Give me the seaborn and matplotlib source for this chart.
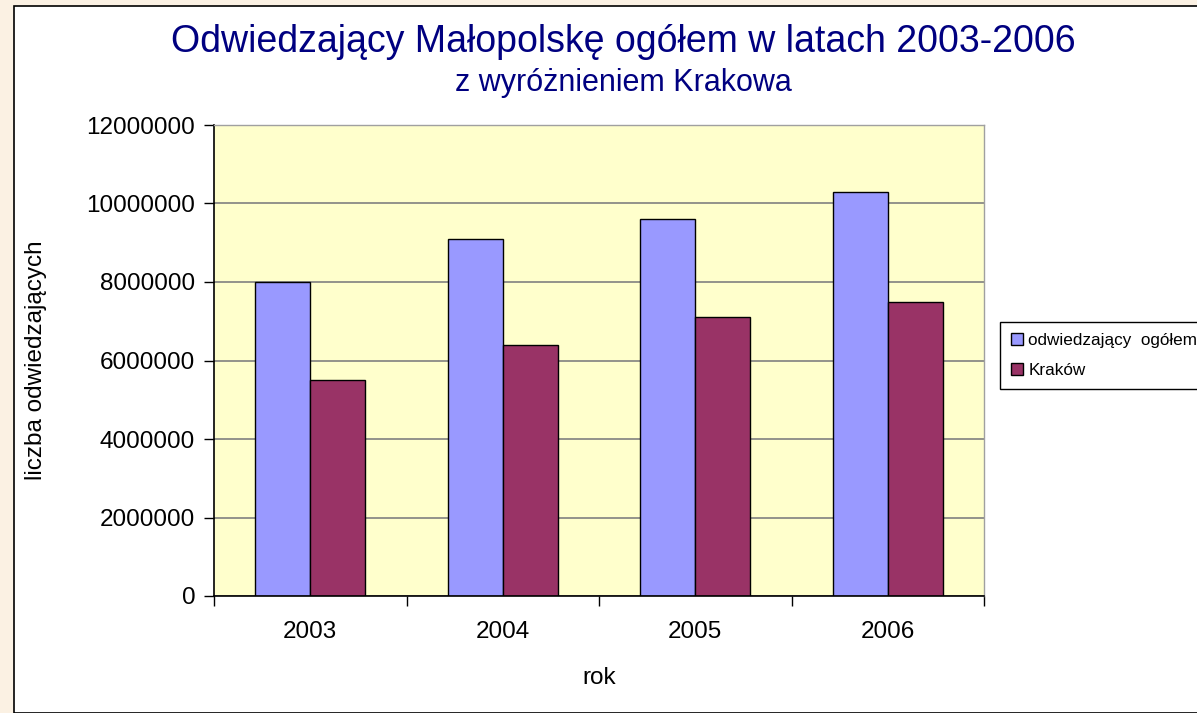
import matplotlib
matplotlib.use("Agg")
import matplotlib.pyplot as plt
from matplotlib.patches import Rectangle, Patch
from matplotlib.ticker import FuncFormatter, FixedLocator
import seaborn as sns
import pandas as pd

years = ["2003", "2004", "2005", "2006"]
series_names = ["odwiedzający  ogółem", "Kraków"]
total_visitors = [8000000, 9100000, 9600000, 10300000]
krakow_visitors = [5500000, 6400000, 7100000, 7500000]
yticks = [0, 2000000, 4000000, 6000000, 8000000, 10000000, 12000000]

df = pd.DataFrame({
    "rok": years * 2,
    "seria": [series_names[0]] * 4 + [series_names[1]] * 4,
    "wartosc": total_visitors + krakow_visitors,
})

sns.set_theme(style="white")
plt.rcParams["font.family"] = ["Liberation Sans", "DejaVu Sans"]

W, H = 1197, 713
fig = plt.figure(figsize=(W / 100, H / 100), dpi=100, facecolor="#FBF1E3")
fig.patches.append(Rectangle((14 / W, 0), 1.2, (H - 6) / H, transform=fig.transFigure,
                             facecolor="white", edgecolor="black", linewidth=1.2, zorder=-10))

ax = fig.add_axes([214 / W, (H - 596) / H, (984 - 214) / W, (596 - 125) / H])
ax.set_facecolor("#FFFFCC")

colors = ["#9999FF", "#993366"]
sns.barplot(data=df, x="rok", y="wartosc", hue="seria", palette=colors,
            width=0.57, edgecolor="black", linewidth=1.0, ax=ax, legend=False,
            saturation=1)

ax.set_ylim(0, 12000000)
ax.set_xlim(-0.5, 3.5)
ax.yaxis.set_major_locator(FixedLocator(yticks))
ax.yaxis.set_major_formatter(FuncFormatter(lambda v, p: f"{int(v)}"))
ax.grid(axis="y", color="#808080", linewidth=1.2, zorder=0)
ax.set_axisbelow(True)

for s in ["top", "right"]:
    ax.spines[s].set_color("#A0A0A0")
    ax.spines[s].set_linewidth(1.0)
for s in ["left", "bottom"]:
    ax.spines[s].set_color("black")
    ax.spines[s].set_linewidth(1.2)

ax.tick_params(axis="y", which="major", direction="out", length=7, width=1, color="black",
               labelsize=17.5, pad=6.5, left=True, labelcolor="black")
ax.tick_params(axis="x", which="major", length=0, labelsize=17.5, pad=18, labelcolor="black")
ax.set_xticks([-0.5, 0.5, 1.5, 2.5, 3.5], minor=True)
ax.tick_params(axis="x", which="minor", direction="out", length=7, width=1, color="black", bottom=True)

ax.set_xlabel("rok", fontsize=17.5, labelpad=17, color="black")
ax.set_ylabel("liczba odwiedzających", fontsize=17.5, labelpad=28, color="black")

fig.text(623 / W, 1 - 42 / H, "Odwiedzający Małopolskę ogółem w latach 2003-2006",
         ha="center", va="center", fontsize=27, color="#000080")
fig.text(623 / W, 1 - 83 / H, "z wyróżnieniem Krakowa",
         ha="center", va="center", fontsize=22, color="#000080")

handles = [Patch(facecolor=c, edgecolor="black", linewidth=1.0) for c in colors]
leg = fig.legend(handles, series_names, loc="upper left",
                 bbox_to_anchor=(1000 / W, 1 - 322 / H), fontsize=12.3,
                 frameon=True, fancybox=False, edgecolor="black", framealpha=1,
                 handlelength=0.7, handleheight=0.7, handletextpad=0.3,
                 labelspacing=0.85, borderpad=0.65, borderaxespad=0)
leg.get_frame().set_linewidth(1.0)
for t in leg.get_texts():
    t.set_color("black")

fig.savefig("out.png", dpi=100, facecolor=fig.get_facecolor())
